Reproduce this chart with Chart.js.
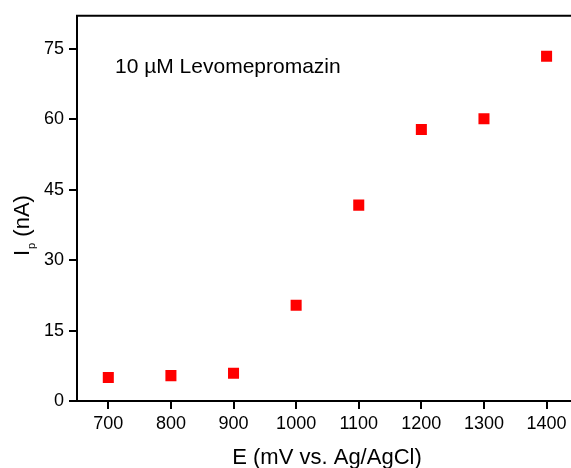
<!DOCTYPE html>
<html>
<head>
<meta charset="utf-8">
<script src="https://cdn.jsdelivr.net/npm/chart.js@4/dist/chart.umd.min.js"></script>
<style>
  html, body { margin: 0; padding: 0; background: #fff; }
  #wrap { width: 571px; height: 468px; position: relative; }
</style>
</head>
<body>
<div id="wrap"><canvas id="grafica"></canvas></div>
<script>
// Datos
const potenciales = [700, 800, 900, 1000, 1100, 1200, 1300, 1400];
const corrientes = [5.0, 5.4, 5.9, 20.4, 41.7, 57.8, 60.1, 73.4];
const ticksX = [700, 800, 900, 1000, 1100, 1200, 1300, 1400];
const ticksY = [0, 15, 30, 45, 60, 75];

const fuente = "'Liberation Sans', Arial, sans-serif";

// Textos extra: borde superior, titulo del eje y con subindice, etiqueta
const textosPlugin = {
    id: 'textos',
    afterDraw(chart) {
        const ctx = chart.ctx;
        const area = chart.chartArea;
        ctx.save();
        // borde superior
        ctx.strokeStyle = '#000';
        ctx.lineWidth = 2;
        ctx.beginPath();
        ctx.moveTo(area.left - 1, area.top);
        ctx.lineTo(chart.width, area.top);
        ctx.stroke();

        ctx.fillStyle = '#000';
        ctx.textBaseline = 'alphabetic';
        ctx.textAlign = 'left';

        // etiqueta dentro del grafico
        ctx.font = '21px ' + fuente;
        ctx.fillText('10 µM Levomepromazin', 115, 73);

        // titulo eje x
        ctx.font = '22px ' + fuente;
        ctx.textAlign = 'center';
        ctx.fillText('E (mV vs. Ag/AgCl)', 327, 464);

        // titulo eje y: I_p (nA)
        ctx.textAlign = 'left';
        ctx.translate(29, 256);
        ctx.rotate(-Math.PI / 2);
        ctx.font = '22px ' + fuente;
        ctx.fillText('I', 0, 0);
        let x = ctx.measureText('I').width + 1;
        ctx.font = '11px ' + fuente;
        ctx.fillText('p', x, 6);
        x += ctx.measureText('p').width;
        ctx.font = '22px ' + fuente;
        ctx.fillText(' (nA)', x, 0);
        ctx.restore();
    }
};

new Chart(document.getElementById('grafica'), {
    type: 'scatter',
    data: {
        datasets: [{
            data: potenciales.map((p, i) => ({ x: p, y: corrientes[i] })),
            pointStyle: 'rect',
            pointRadius: 7.8,
            pointHoverRadius: 7.8,
            backgroundColor: '#ff0000',
            borderWidth: 0
        }]
    },
    options: {
        responsive: true,
        maintainAspectRatio: false,
        animation: false,
        layout: { autoPadding: false, padding: { top: 15, left: 0, right: 0, bottom: 0 } },
        plugins: {
            legend: { display: false },
            tooltip: { enabled: false }
        },
        scales: {
            x: {
                type: 'linear',
                min: 650,
                max: 1439,
                afterBuildTicks: s => { s.ticks = ticksX.map(v => ({ value: v })); },
                afterFit: s => { s.height = 67; s.paddingRight = 0; },
                border: { display: true, color: '#000', width: 2 },
                grid: { drawOnChartArea: false, drawTicks: true, tickLength: 8, color: '#000', lineWidth: 2 },
                ticks: { color: '#000', padding: 4, maxRotation: 0, callback: v => String(v), font: { size: 18, family: fuente } }
            },
            y: {
                min: 0,
                max: 82,
                afterBuildTicks: s => { s.ticks = ticksY.map(v => ({ value: v })); },
                afterFit: s => { s.width = 77; },
                border: { display: true, color: '#000', width: 2 },
                grid: { drawOnChartArea: false, drawTicks: true, tickLength: 8, color: '#000', lineWidth: 2 },
                ticks: { color: '#000', padding: 5, callback: v => String(v), font: { size: 18, family: fuente } }
            }
        }
    },
    plugins: [textosPlugin]
});
</script>
</body>
</html>
